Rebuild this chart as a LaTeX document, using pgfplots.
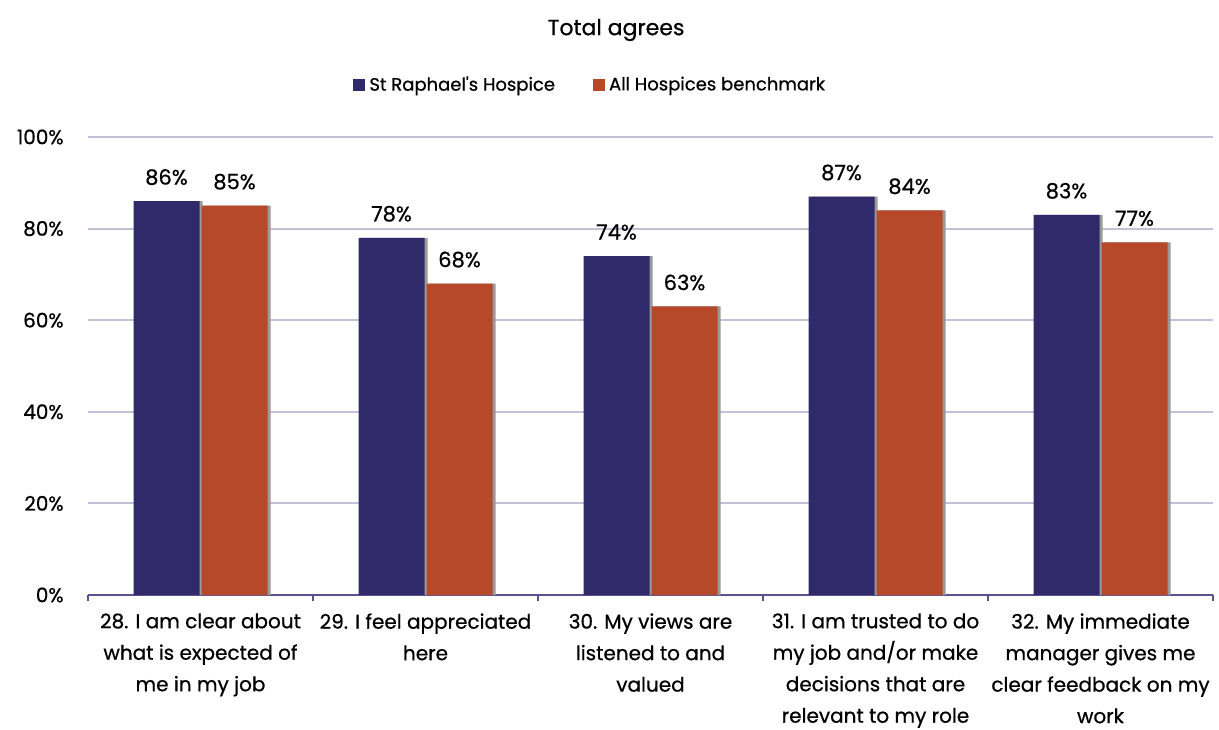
\documentclass[border=0pt]{standalone}
\usepackage{pgfplots}
\pgfplotsset{compat=1.18}
\usepackage{fontspec}
\setmainfont{Poppins}[FakeBold=0.7]
\definecolor{barpurple}{HTML}{302A6A}
\definecolor{barorange}{HTML}{B5492A}
\definecolor{gridc}{HTML}{C4C0D8}
\definecolor{axisc}{HTML}{5A5290}
\definecolor{shadowc}{HTML}{9A9A9A}
\begin{document}
\begin{tikzpicture}
\useasboundingbox (0,0) rectangle (609.5pt,364.5pt);
\node[font=\fontsize{11}{13}\selectfont] at (308pt,349.5pt) {Total agrees};
\begin{axis}[
  at={(44pt,67pt)}, anchor=south west,
  scale only axis, width=562.5pt, height=229pt,
  xmin=-0.5, xmax=4.5, ymin=0, ymax=100,
  /pgf/number format/assume math mode=true,
  ybar, bar width=33pt,
  axis x line*=bottom, axis y line*=left,
  y axis line style={draw=none},
  x axis line style={axisc, line width=0.9pt, -},
  ymajorgrids=true, grid style={gridc, line width=1pt},
  ytick={0,20,...,100},
  yticklabel={\pgfmathprintnumber{\tick}\%},
  ytick style={draw=none},
  yticklabel style={anchor=east, inner sep=0pt, xshift=-9pt, font=\fontsize{10}{12}\selectfont},
  xtick={0,1,2,3,4},
  xticklabels={
    {28. I am clear about\\what is expected of\\me in my job},
    {29. I feel appreciated\\here},
    {30. My views are\\listened to and\\valued},
    {31. I am trusted to do\\my job and/or make\\decisions that are\\relevant to my role},
    {32. My immediate\\manager gives me\\clear feedback on my\\work}},
  xtick style={draw=none},
  major tick length=3pt,
  tick align=outside,
  xticklabel style={align=center, anchor=north, inner sep=0pt, yshift=-6pt, font=\fontsize{10}{15.75}\selectfont},
  extra x ticks={-0.5,0.5,1.5,2.5,3.5,4.5},
  extra x tick labels={},
  extra x tick style={xtick style={draw=axisc, line width=0.9pt}, major tick length=3pt},
  legend style={at={(axis description cs:0.2356,1.1135)}, anchor=west, draw=none, fill=none,
    inner sep=0pt, font=\fontsize{9}{11}\selectfont,
    /tikz/every even column/.append style={column sep=17pt}},
  legend columns=2,
  nodes near coords={\pgfmathprintnumber{\pgfplotspointmeta}\%},
  every node near coord/.append style={text=black, anchor=center, yshift=12pt, font=\fontsize{10.5}{12}\selectfont},
]
\addplot[forget plot, fill=shadowc, draw=none, bar shift=-15.5pt, nodes near coords={}] coordinates {(0,86) (1,78) (2,74) (3,87) (4,83)};
\addplot[forget plot, fill=shadowc, draw=none, bar shift=18.5pt, nodes near coords={}] coordinates {(0,85) (1,68) (2,63) (3,84) (4,77)};
\addplot[fill=barpurple, draw=none, bar shift=-17pt,
  legend image code/.code={\fill[barpurple] (0pt,-3pt) rectangle (6pt,3pt);}]
  coordinates {(0,86) (1,78) (2,74) (3,87) (4,83)};
\addlegendentry{St Raphael\textquotesingle s Hospice}
\addplot[fill=barorange, draw=none, bar shift=17pt,
  legend image code/.code={\fill[barorange] (0pt,-3pt) rectangle (6pt,3pt);}]
  coordinates {(0,85) (1,68) (2,63) (3,84) (4,77)};
\addlegendentry{All Hospices benchmark}
\end{axis}
\end{tikzpicture}
\end{document}
